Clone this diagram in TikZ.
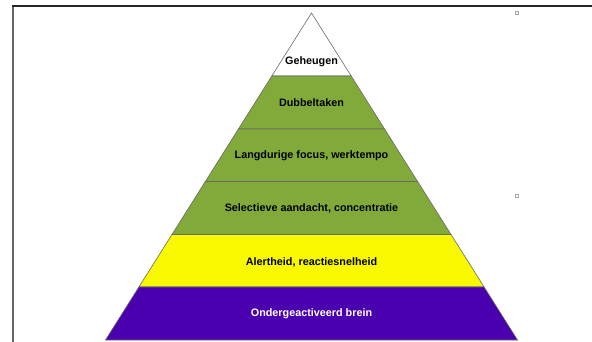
\documentclass[tikz,border=0pt]{standalone}
\usepackage{fontspec}
\setmainfont{Liberation Sans}
\usetikzlibrary{calc}
\definecolor{pgreen}{HTML}{82AA3A}
\definecolor{pyellow}{HTML}{F8F800}
\definecolor{ppurple}{HTML}{4A00AE}
\definecolor{edgegray}{HTML}{6A6A6A}
\begin{document}
\begin{tikzpicture}[x=1pt,y=-1pt,
  band/.style={draw=edgegray,line width=0.6pt,line join=miter},
  lbl/.style={font=\bfseries\fontsize{10.8}{13}\selectfont,inner sep=0pt},
  handle/.style={draw=gray!70,fill=white,line width=0.5pt,minimum size=3pt,inner sep=0pt}]
\useasboundingbox (0,0) rectangle (592,342);
\coordinate (A) at (311.5,13);
\coordinate (BL) at (105.5,340);
\coordinate (BR) at (517.5,340);
% band boundaries
\foreach \n/\t in {1/0.1927,2/0.3547,3/0.5153,4/0.6774,5/0.8379,6/1}{
  \coordinate (L\n) at ($(A)!\t!(BL)$);
  \coordinate (R\n) at ($(A)!\t!(BR)$);
}
\draw[band,fill=white] (A) -- (L1) -- (R1) -- cycle;
\draw[band,fill=pgreen] (L1) -- (L2) -- (R2) -- (R1) -- cycle;
\draw[band,fill=pgreen] (L2) -- (L3) -- (R3) -- (R2) -- cycle;
\draw[band,fill=pgreen] (L3) -- (L4) -- (R4) -- (R3) -- cycle;
\draw[band,fill=pyellow] (L4) -- (L5) -- (R5) -- (R4) -- cycle;
\draw[band,fill=ppurple] (L5) -- (L6) -- (R6) -- (R5) -- cycle;
% labels
\node[lbl] (geh) at (311.5,62) {Geheugen};
\node[lbl] (dub) at (311.5,103) {Dubbeltaken};
\node[lbl] (lan) at (311.5,156) {Langdurige focus, werktempo};
\node[lbl] (sel) at (311.5,208.5) {Selectieve aandacht, concentratie};
\node[lbl] (ale) at (311.5,262) {Alertheid, reactiesnelheid};
\node[lbl,text=white] (ond) at (311.5,314) {Ondergeactiveerd brein};
% frame
\draw[line width=1.2pt,draw=black!60] (13,342) -- (13,6);
\draw[line width=1.2pt,draw=black!85] (12.4,6) -- (592,6);
% handles
\node[handle] (h1) at (517,13) {};
\node[handle] (h2) at (517,196) {};
\end{tikzpicture}
\end{document}
